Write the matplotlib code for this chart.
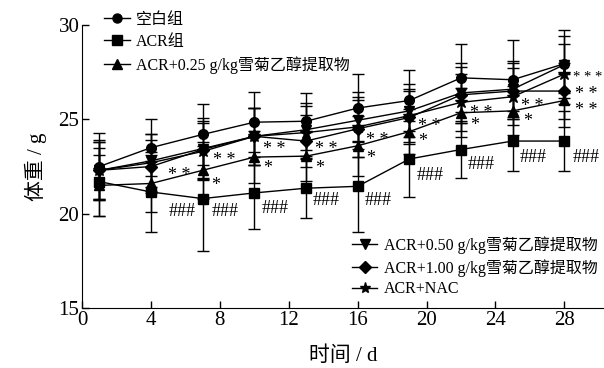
import matplotlib
matplotlib.use("Agg")
import matplotlib.pyplot as plt
from matplotlib.lines import Line2D

plt.rcParams['font.family'] = ['Liberation Serif', 'Noto Sans CJK SC']

days = [1, 4, 7, 10, 13, 16, 19, 22, 25, 28]
labels = ['空白组', 'ACR组', 'ACR+0.25 g/kg雪菊乙醇提取物',
          'ACR+0.50 g/kg雪菊乙醇提取物', 'ACR+1.00 g/kg雪菊乙醇提取物', 'ACR+NAC']
markers = ['o', 's', '^', 'v', 'D', '*']
blank = [22.5, 23.5, 24.2, 24.85, 24.9, 25.6, 26.0, 27.2, 27.1, 27.95]
acr = [21.7, 21.15, 20.8, 21.1, 21.35, 21.45, 22.9, 23.4, 23.85, 23.85]
d025 = [21.5, 21.6, 22.3, 23.0, 23.05, 23.6, 24.35, 25.35, 25.45, 26.0]
d050 = [22.3, 22.8, 23.45, 24.1, 24.45, 24.95, 25.45, 26.4, 26.6, 27.9]
d100 = [22.3, 22.5, 23.4, 24.1, 23.85, 24.5, 25.1, 26.3, 26.5, 26.5]
nac = [22.3, 22.7, 23.3, 24.1, 24.3, 24.6, 25.2, 25.9, 26.2, 27.4]
err_blank = [1.8, 1.5, 1.6, 1.6, 1.5, 1.8, 1.6, 1.8, 2.1, 1.8]
err_acr = [1.8, 2.1, 2.8, 1.9, 1.6, 2.4, 2.0, 1.5, 1.6, 1.6]
err_025 = [1.6, 1.5, 1.5, 1.4, 1.3, 1.6, 1.2, 1.3, 1.3, 1.4]
err_050 = [1.5, 1.4, 1.6, 1.5, 1.4, 1.5, 1.4, 1.6, 1.5, 1.5]
err_100 = [1.5, 1.4, 1.5, 1.5, 1.4, 1.5, 1.4, 1.5, 1.5, 1.5]
err_nac = [1.6, 1.5, 1.5, 1.5, 1.4, 1.6, 1.4, 1.5, 1.5, 1.6]
series = [blank, acr, d025, d050, d100, nac]
errs = [err_blank, err_acr, err_025, err_050, err_100, err_nac]

# annotations: (x, y, text)
annotations = [
    (5.0, 22.0, '* *'), (5.0, 20.1, '###'),
    (7.6, 22.8, '* *'), (7.5, 21.5, '*'), (7.5, 20.1, '###'),
    (10.5, 23.4, '* *'), (10.5, 22.4, '*'), (10.4, 20.3, '###'),
    (13.5, 23.4, '* *'), (13.5, 22.4, '*'), (13.4, 20.7, '###'),
    (16.5, 23.9, '* *'), (16.5, 22.9, '*'), (16.4, 20.7, '###'),
    (19.5, 24.6, '* *'), (19.5, 23.8, '*'), (19.4, 22.0, '###'),
    (22.5, 25.3, '* *'), (22.5, 24.7, '*'), (22.4, 22.6, '###'),
    (25.5, 25.7, '* *'), (25.6, 24.9, '*'), (25.4, 23.0, '###'),
    (28.5, 27.2, '* * *'), (28.6, 26.3, '* *'), (28.6, 25.45, '* *'), (28.5, 23.0, '###'),
]

fig = plt.figure(figsize=(6.04, 3.68), dpi=100)
ax = fig.add_axes([0.136, 0.163, 0.864, 0.769])

for ys, es, m in zip(series, errs, markers):
    ms = 9 if m == '*' else (6 if m == 'D' else 7)
    ax.errorbar(days, ys, yerr=es, color='black', marker=m, markersize=ms,
                linewidth=1.0, elinewidth=1.0, capsize=4.5, capthick=1.0)

for x, y, t in annotations:
    fs = 10.5 if t == '* * *' else 13
    ax.text(x, y, t, fontsize=fs, ha='left', va='center', color='black')

ax.set_xlim(0, 30.3)
ax.set_ylim(15, 30)
ax.set_xticks([0, 4, 8, 12, 16, 20, 24, 28])
ax.set_yticks([15, 20, 25, 30])
ax.tick_params(direction='in', labelsize=15, length=5, width=1, pad=2)
for s in ['top', 'right']:
    ax.spines[s].set_visible(False)
ax.set_xlabel('时间 / d', fontsize=15, labelpad=12)
ax.set_ylabel('体重 / g', fontsize=15, labelpad=8)

def handle(m):
    ms = 8 if m == '*' else (6 if m == 'D' else 6.5)
    return Line2D([], [], color='black', marker=m, markersize=ms, linewidth=1.0)

h = [handle(m) for m in markers]
leg1 = ax.legend(h[:3], labels[:3], loc='upper left', bbox_to_anchor=(0.03, 1.07),
                 frameon=False, fontsize=11.5, handlelength=1.6, handletextpad=0.4,
                 labelspacing=0.38, borderaxespad=0)
ax.add_artist(leg1)
ax.legend(h[3:], labels[3:], loc='lower right', bbox_to_anchor=(1.0, 0.015),
          frameon=False, fontsize=11.5, handlelength=1.6, handletextpad=0.4,
          labelspacing=0.3, borderaxespad=0)

fig.savefig('out.png', dpi=100)
